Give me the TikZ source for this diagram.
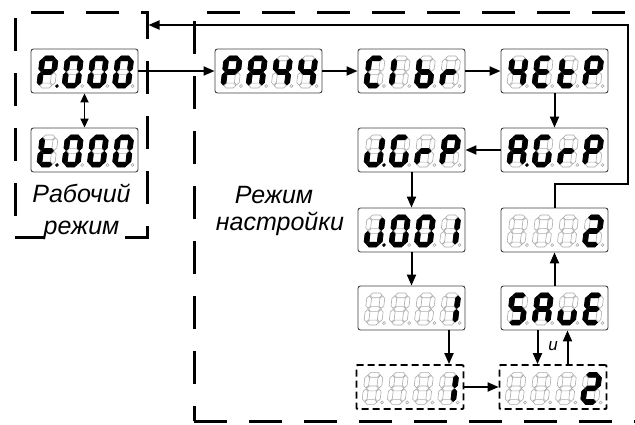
\documentclass[tikz,border=0pt]{standalone}
\usepackage{fontspec}
\setmainfont{Liberation Sans}
\usetikzlibrary{arrows.meta}
% seven-segment helpers (half thickness 2.4)
\newcommand\HS[4]{\path[#1] (#2,#4) -- ++(2.4,-2.4) -- ({#3-2.4},{#4-2.4}) -- (#3,#4) -- ({#3-2.4},{#4+2.4}) -- ({#2+2.4},{#4+2.4}) -- cycle;}
\newcommand\VS[4]{\path[#1] (#2,#3) -- ++(2.4,2.4) -- ({#2+2.4},{#4-2.4}) -- (#2,#4) -- ({#2-2.4},{#4-2.4}) -- ({#2-2.4},{#3+2.4}) -- cycle;}
\newcommand\sevsega[1]{\HS{#1}{3.0}{15.0}{-29.6}}
\newcommand\sevsegg[1]{\HS{#1}{3.0}{15.0}{-16}}
\newcommand\sevsegd[1]{\HS{#1}{3.0}{15.0}{-2.4}}
\newcommand\sevsegf[1]{\VS{#1}{2.4}{-29.0}{-16.6}}
\newcommand\sevsegb[1]{\VS{#1}{15.6}{-29.0}{-16.6}}
\newcommand\sevsege[1]{\VS{#1}{2.4}{-15.4}{-3.0}}
\newcommand\sevsegc[1]{\VS{#1}{15.6}{-15.4}{-3.0}}
\newcommand\sevsegn[1]{}
\newcommand\dig[4]{%
  \begin{scope}[shift={(#1,#2)},xslant=0.12]
    \foreach \sx in {a,b,c,d,e,f,g}{\csname sevseg\sx\endcsname{segoff}}
    \foreach \sx in {#3}{\csname sevseg\sx\endcsname{segon}}
    \path[dp#4] (20.2,-1.9) circle (1.5);
  \end{scope}}
\newcommand\disp[6]{%
  \begin{scope}[shift={(#1.south west)}]
    \dig{6}{-5.5}{#2}{#3}
    \dig{31.2}{-5.5}{#4}{off}
    \dig{56.4}{-5.5}{#5}{off}
    \dig{81.6}{-5.5}{#6}{off}
  \end{scope}}
\begin{document}
\begin{tikzpicture}[x=1pt,y={(0,-1pt)},
  segoff/.style={draw=black!33, line width=0.6pt, fill=white},
  segon/.style={draw=black, line width=0.8pt, fill=black},
  dpoff/.style={draw=black!33, line width=0.6pt},
  dpon/.style={draw=black, fill=black, line width=0.6pt},
  disp/.style={draw=black!75, line width=0.9pt, rounded corners=2.5pt, minimum width=107pt, minimum height=44pt, inner sep=0pt, fill=white},
  dispd/.style={disp, draw=black, line width=1.8pt, dash pattern=on 7pt off 4pt, rounded corners=1pt},
  modebox/.style={draw=black, line width=3pt, dash pattern=on 33pt off 22pt, inner sep=0pt},
  arr/.style={line width=2pt, -{Triangle[length=11pt,width=9pt]}},
  arrd/.style={line width=1.8pt, {Triangle[length=9pt,width=8pt]}-{Triangle[length=9pt,width=8pt]}},
  modetext/.style={font=\itshape\fontsize{25}{25}\selectfont, anchor=base, inner sep=0pt},
]
\useasboundingbox (0,0) rectangle (635,424);
\clip (0,0) rectangle (635,424);
% mode boxes
\node[modebox, minimum width=132pt, minimum height=225pt] (work) at (81,124.5) {};
\node[modebox, minimum width=451pt, minimum height=409pt] (setup) at (419.5,216.5) {};
% displays
\node[disp] (p000) at (84.5,71) {};
\node[disp] (t000) at (84.5,150) {};
\node[disp] (pass) at (268.5,71) {};
\node[disp] (clbr) at (411.5,71) {};
\node[disp] (setp) at (554.5,71) {};
\node[disp] (jgrp) at (411.5,150) {};
\node[disp] (agrp) at (554.5,150) {};
\node[disp] (j001) at (411.5,230) {};
\node[disp] (two) at (554.5,230) {};
\node[disp] (one) at (411.5,308) {};
\node[disp] (save) at (554.5,308) {};
\node[dispd] (oned) at (410,387) {};
\node[dispd] (twod) at (553,387) {};
\disp{p000}{a,b,e,f,g}{on}{a,b,c,d,e,f}{a,b,c,d,e,f}{a,b,c,d,e,f}
\disp{t000}{d,e,f,g}{on}{a,b,c,d,e,f}{a,b,c,d,e,f}{a,b,c,d,e,f}
\disp{pass}{a,b,e,f,g}{off}{a,b,c,e,f,g}{b,c,f,g}{b,c,f,g}
\disp{clbr}{a,d,e,f}{off}{e,f}{c,d,e,f,g}{e,g}
\disp{setp}{b,c,f,g}{off}{a,d,e,f,g}{d,e,f,g}{a,b,e,f,g}
\disp{agrp}{a,b,c,e,f,g}{on}{a,c,d,e,f}{e,g}{a,b,e,f,g}
\disp{jgrp}{b,c,d,e}{on}{a,c,d,e,f}{e,g}{a,b,e,f,g}
\disp{j001}{b,c,d,e}{on}{a,b,c,d,e,f}{a,b,c,d,e,f}{b,c}
\disp{two}{n}{off}{n}{n}{a,b,d,e,g}
\disp{one}{n}{off}{n}{n}{b,c}
\disp{save}{a,c,d,f,g}{off}{a,b,c,e,f,g}{c,d,e}{a,d,e,f,g}
\disp{oned}{n}{off}{n}{n}{b,c}
\disp{twod}{n}{off}{n}{n}{a,b,d,e,g}
% labels
\node[modetext] (w1) at (81.5,202) {Рабочий};
\node[modetext, fill=white, inner ysep=1pt] (w2) at (81.5,234) {режим};
\node[modetext] (s1) at (274,203) {Режим};
\node[modetext] (s2) at (280,230) {настройки};
\node[font=\itshape\fontsize{17}{17}\selectfont, inner sep=0pt] (u) at (553,346) {и};
% connectors
\draw[arrd] (p000) -- (t000);
\draw[arr] (p000) -- (pass);
\draw[arr] (pass) -- (clbr);
\draw[arr] (clbr) -- (setp);
\draw[arr] (setp) -- (agrp);
\draw[arr] (agrp) -- (jgrp);
\draw[arr] (jgrp) -- (j001);
\draw[arr] (j001) -- (one);
\draw[arr] ([xshift=37.5pt]one.south) -- ([xshift=37.5pt]one.south |- oned.north);
\draw[arr] (oned) -- (twod);
\draw[arr] ([xshift=-17pt]save.south) -- ([xshift=-17pt]save.south |- twod.north);
\draw[arr] ([xshift=13pt]save.south |- twod.north) -- ([xshift=13pt]save.south);
\draw[arr] (save) -- (two);
\coordinate (fbA) at (554.5,184);
\coordinate (fbB) at (628,25);
\draw[arr] (two.north) -- (fbA) -| (fbB) -- (fbB -| work.east);
\end{tikzpicture}
\end{document}
